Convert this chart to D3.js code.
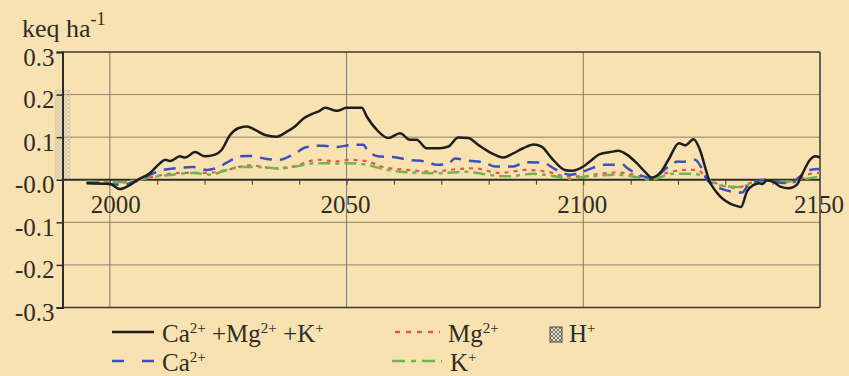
<!DOCTYPE html>
<html><head><meta charset="utf-8">
<script src="https://cdn.jsdelivr.net/npm/d3@7"></script>
<style>
html,body{margin:0;padding:0;background:#f9e2b1;}
svg{display:block;font-family:"Liberation Serif","Times New Roman",serif;}
</style></head>
<body><svg id="c" width="849" height="376"></svg>
<script>
// ---- data ----
const totalYears = [1995.1,2000,2002.1,2004.3,2005.9,2008.5,2010.6,2011.7,2012.7,2014.8,2015.9,2018,2020.1,2022.2,2023.6,2025.4,2027.1,2028.9,2030.7,2032.8,2035.2,2037.4,2039.1,2040.9,2042.6,2044,2045.5,2047.1,2048,2050,2053.2,2054.3,2056.4,2058.8,2061.3,2063.4,2064.8,2066.9,2069.7,2071.5,2073.6,2075.7,2077.8,2080.7,2083.1,2085.2,2087.3,2089.5,2091.2,2093.3,2096.1,2097.6,2100,2101.4,2103.5,2105.7,2107.4,2109.2,2111.3,2113,2114.5,2116.2,2118,2120.2,2121.5,2123.3,2124.7,2125.7,2126.4,2128.2,2131,2132.5,2133.3,2134.6,2136,2137.1,2137.8,2138.8,2140.2,2141.6,2143.4,2145.1,2146.2,2147.9,2149,2150];
const totalValues = [-0.008,-0.010,-0.022,-0.012,0.000,0.016,0.039,0.047,0.044,0.055,0.052,0.065,0.055,0.059,0.070,0.105,0.121,0.125,0.117,0.105,0.101,0.113,0.125,0.144,0.154,0.160,0.169,0.164,0.162,0.169,0.169,0.148,0.117,0.098,0.109,0.094,0.094,0.074,0.074,0.078,0.099,0.098,0.082,0.062,0.052,0.062,0.074,0.083,0.078,0.051,0.023,0.021,0.031,0.043,0.060,0.065,0.068,0.059,0.039,0.019,0.005,0.016,0.047,0.086,0.081,0.095,0.068,0.031,0.004,-0.030,-0.056,-0.062,-0.064,-0.027,-0.012,-0.008,-0.010,-0.001,-0.005,-0.016,-0.020,-0.012,0.012,0.047,0.055,0.052];

const caYears = [1995.1,2000,2002.1,2004.3,2006.4,2008.5,2011.2,2014.8,2017.6,2020.5,2022.6,2024.7,2027.4,2029.5,2033.1,2035.9,2038.7,2041.6,2045,2048,2051.2,2053.5,2054.4,2056.6,2060.2,2062.8,2066.6,2069.1,2071.4,2072.9,2075.7,2079.2,2081.4,2085.2,2087.7,2091.5,2094,2097.2,2100,2102.5,2104,2106.1,2108.4,2109.2,2112.4,2114.6,2117.9,2120,2121.1,2123.6,2125.1,2126.1,2128.9,2131,2133.5,2135.2,2138.8,2141.6,2143.7,2145.8,2147.9,2150];
const caValues = [-0.007,-0.010,-0.012,-0.008,0.000,0.012,0.023,0.028,0.030,0.023,0.028,0.040,0.055,0.056,0.049,0.047,0.059,0.077,0.080,0.077,0.082,0.082,0.070,0.055,0.053,0.047,0.043,0.035,0.037,0.050,0.045,0.040,0.031,0.031,0.041,0.040,0.025,0.012,0.019,0.030,0.035,0.035,0.035,0.028,0.009,0.004,0.030,0.043,0.042,0.047,0.025,0.000,-0.020,-0.027,-0.030,-0.008,0.000,-0.007,-0.008,0.008,0.023,0.025];

const mgYears = [1995.1,2000,2003,2006,2010,2014.8,2019,2021.8,2024.7,2029.6,2034.5,2038.7,2043.8,2048,2050.7,2054.3,2057.7,2062.8,2068.3,2073.3,2076.7,2082.4,2088.1,2092.3,2096.6,2100,2103.5,2107.1,2110.5,2114.1,2117.7,2121.1,2124.1,2126.1,2129.5,2132.5,2135.2,2138.8,2142.2,2145.2,2147.3,2150];
const mgValues = [-0.005,-0.006,-0.006,0.000,0.009,0.016,0.016,0.017,0.023,0.034,0.027,0.031,0.047,0.043,0.047,0.043,0.030,0.023,0.019,0.025,0.027,0.016,0.023,0.019,0.008,0.008,0.014,0.017,0.012,0.004,0.016,0.023,0.023,0.004,-0.014,-0.019,-0.008,-0.002,-0.007,-0.005,0.012,0.016];

const kYears = [1995.1,2000,2003,2006,2010,2013.3,2017.6,2021.2,2024.7,2027.5,2031.1,2035.9,2038.7,2043.8,2048,2050.1,2054.3,2057.7,2061.3,2066.2,2069.7,2075.4,2079.7,2083.9,2089.4,2093.6,2097.8,2100.8,2102.1,2107.1,2111.3,2114.1,2119,2123.2,2126.1,2128.3,2132.5,2135.2,2139.4,2143.7,2146.5,2150];
const kValues = [-0.004,-0.006,-0.005,0.000,0.008,0.012,0.016,0.012,0.023,0.030,0.030,0.026,0.030,0.039,0.038,0.039,0.035,0.025,0.019,0.016,0.015,0.019,0.012,0.008,0.014,0.009,0.002,0.008,0.009,0.012,0.006,0.000,0.014,0.014,0.004,-0.012,-0.017,-0.012,-0.004,-0.004,0.001,0.008];

const hYear = 1990, hValue = 0.21, hWidth = 3;

const yTicks = [0.3,0.2,0.1,0,-0.1,-0.2,-0.3];
const yTickLabels = ["0.3","0.2","0.1","-0.0","-0.1","-0.2","-0.3"];
const xLabelYears = [2000,2050,2100,2150];
const xGridYears = [2000,2050,2100];
const xMinorYears = d3.range(2000,2150,10);

// ---- drawing ----
const svg = d3.select("#c");
const W = 849, H = 376;
svg.append("rect").attr("width",W).attr("height",H).attr("fill","#f9e2b1");

const x = d3.scaleLinear().domain([1990,2150]).range([62.5,820]);
const y = d3.scaleLinear().domain([-0.3,0.3]).range([307.5,52]);

const defs = svg.append("defs");
function hatch(id, col, bg){
  const p = defs.append("pattern").attr("id",id).attr("patternUnits","userSpaceOnUse")
    .attr("width",4).attr("height",4);
  if(bg) p.append("rect").attr("width",4).attr("height",4).attr("fill",bg);
  p.append("path").attr("d","M0,0L4,4M4,0L0,4").attr("stroke",col).attr("stroke-width",0.8);
}
hatch("hatchL","#c9c0b0",null);
hatch("hatchD","#5a5650","#e8e2d6");

// grid
const g = svg.append("g");
g.selectAll("line.hg").data([0.2,0.1,-0.1,-0.2]).join("line")
  .attr("x1",x(1990)).attr("x2",x(2150)).attr("y1",d=>y(d)).attr("y2",d=>y(d))
  .attr("stroke","#8a8270").attr("stroke-width",1);
g.selectAll("line.vg").data(xGridYears).join("line")
  .attr("x1",d=>x(d)).attr("x2",d=>x(d)).attr("y1",y(0.3)).attr("y2",y(-0.3))
  .attr("stroke","#7e7868").attr("stroke-width",1);

// H+ bar
svg.append("rect").attr("x",x(hYear-hWidth/2)).attr("width",x(hYear+hWidth/2)-x(hYear-hWidth/2))
  .attr("y",y(hValue)).attr("height",y(0)-y(hValue))
  .attr("fill","url(#hatchL)").attr("stroke","#d6ccb8").attr("stroke-width",1);

// frame
const frame = svg.append("g").attr("stroke","#3a3833").attr("fill","none");
frame.append("line").attr("x1",x(1990)).attr("x2",x(2150)).attr("y1",y(0.3)).attr("y2",y(0.3)).attr("stroke-width",1.5);
frame.append("line").attr("x1",x(1990)).attr("x2",x(2150)).attr("y1",y(-0.3)).attr("y2",y(-0.3)).attr("stroke-width",1.5);
frame.append("line").attr("x1",x(2150)).attr("x2",x(2150)).attr("y1",y(0.3)).attr("y2",y(-0.3)).attr("stroke-width",1.5);

// y axis
const yAxis = d3.axisLeft(y).tickValues(yTicks).tickSize(6).tickFormat((d,i)=>yTickLabels[i]);
const ya = svg.append("g").attr("transform",`translate(${x(1990)},0)`).call(yAxis);
ya.select(".domain").attr("stroke","#2e2c28").attr("stroke-width",2);
ya.selectAll(".tick line").attr("stroke","#2e2c28").attr("stroke-width",1.5);
ya.selectAll(".tick text").attr("font-family","Liberation Serif").attr("font-size",25)
  .attr("fill","#2e2c28").attr("x",-8).attr("dy","0.52em");

// zero line with minor ticks
const xAxis = d3.axisBottom(x).tickValues(xMinorYears).tickSize(5).tickFormat("");
const xa = svg.append("g").attr("transform",`translate(0,${y(0)})`).call(xAxis);
xa.select(".domain").attr("stroke","#2e2c28").attr("stroke-width",2).attr("d",`M${x(1990)},0H${x(2150)}`);
xa.selectAll(".tick line").attr("stroke","#3a3833").attr("stroke-width",1);

// x labels
svg.selectAll("text.xl").data(xLabelYears).join("text")
  .attr("x",(d,i)=>x(d)+(i===0?6:-1)).attr("y",213).attr("text-anchor","middle")
  .attr("font-size",25).attr("fill","#2e2c28").text(d=>d);

// lines
const series = [
  {years:mgYears, values:mgValues, color:"#e8574f", dash:"4,5", w:2.2},
  {years:kYears, values:kValues, color:"#72b54c", dash:"12,5,4,5", w:2.5},
  {years:caYears, values:caValues, color:"#3d4fb8", dash:"12,8", w:2.5},
  {years:totalYears, values:totalValues, color:"#1e1e1c", dash:null, w:2.5}
];
const line = d3.line().x(d=>x(d[0])).y(d=>y(d[1])).curve(d3.curveMonotoneX);
series.forEach(s=>{
  svg.append("path").datum(s.years.map((yy,i)=>[yy,s.values[i]]))
    .attr("d",line).attr("fill","none").attr("stroke",s.color).attr("stroke-width",s.w)
    .attr("stroke-dasharray",s.dash).attr("stroke-linejoin","round");
});

// title
const t = svg.append("text").attr("x",22).attr("y",37).attr("font-size",26).attr("fill","#2e2c28");
t.append("tspan").text("keq ha");
t.append("tspan").attr("font-size",18).attr("dy",-12).text("-1");

// legend
const legendItems = [
  {parts:[["Ca",0],["2+",1],[" +Mg",0],["2+",1],[" +K",0],["+",1]], x:112, y:332, color:"#1e1e1c", dash:null, lw:42},
  {parts:[["Mg",0],["2+",1]], x:395, y:332, color:"#e8574f", dash:"5,6", lw:45},
  {parts:[["Ca",0],["2+",1]], x:112, y:361, color:"#3d4fb8", dash:"12,18", lw:42},
  {parts:[["K",0],["+",1]], x:392, y:361, color:"#72b54c", dash:"13,6,5,6", lw:50}
];
legendItems.forEach(it=>{
  svg.append("line").attr("x1",it.x).attr("x2",it.x+it.lw).attr("y1",it.y).attr("y2",it.y)
    .attr("stroke",it.color).attr("stroke-width",2.5).attr("stroke-dasharray",it.dash);
  const tx = svg.append("text").attr("x",it.x+it.lw+8).attr("y",it.y+10).attr("font-size",25).attr("fill","#2e2c28");
  let prevSup=false;
  it.parts.forEach(([s,sup])=>{
    const ts = tx.append("tspan").text(s);
    if(sup){ts.attr("font-size",15).attr("dy",prevSup?0:-9);}
    else if(prevSup){ts.attr("dy",9);}
    prevSup=!!sup;
  });
});
// H+ legend
svg.append("rect").attr("x",550).attr("y",327).attr("width",12).attr("height",15)
  .attr("fill","url(#hatchD)").attr("stroke","#4a4640").attr("stroke-width",1);
const ht = svg.append("text").attr("x",569).attr("y",342).attr("font-size",25).attr("fill","#2e2c28");
ht.append("tspan").text("H");
ht.append("tspan").attr("font-size",15).attr("dy",-9).text("+");
</script></body></html>
